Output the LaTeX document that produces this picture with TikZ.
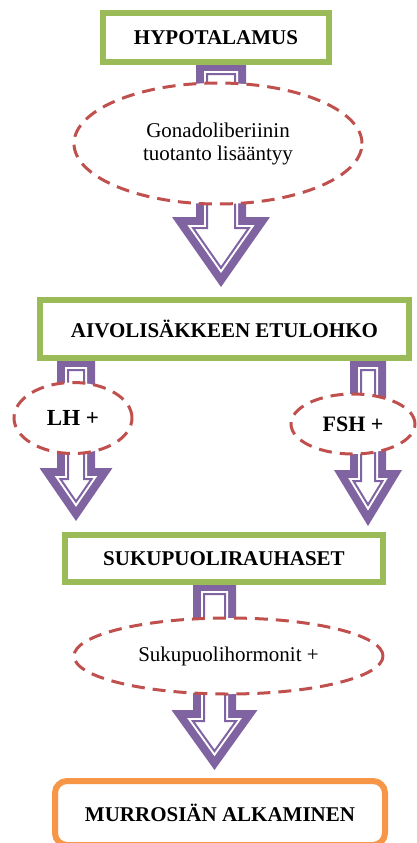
\documentclass[tikz,border=0pt]{standalone}
\usepackage{fontspec}
\setmainfont{Liberation Serif}
\usetikzlibrary{calc,shapes.geometric,backgrounds}
\definecolor{boxgreen}{HTML}{9BBB59}
\definecolor{ovalred}{HTML}{C0504D}
\definecolor{arrowviolet}{HTML}{8064A2}
\definecolor{endorange}{HTML}{F79646}

\begin{document}
\begin{tikzpicture}[x=0.5pt,y=-0.5pt,
organ/.style={draw=boxgreen,line width=3pt,fill=white,inner sep=0pt,font=\fontsize{10.5}{12}\selectfont\bfseries},
result/.style={organ,draw=endorange,rounded corners=6pt},
hormone/.style={ellipse,draw=ovalred,line width=1.5pt,dash pattern=on 6.5pt off 4pt,fill=white,inner sep=0pt,align=center,font=\fontsize{10.5}{11.5}\selectfont},
harrow/.style n args={4}{to path={let \p1=(\tikztostart),\p2=(\tikztotarget),
  \n1={#1-#4},\n2={#4*sqrt((#2)^2+(#3)^2)/(#2)},\n3={(#2)*((#3)-(#4)-\n2)/(#3)} in
  (\x1-\n1,\y1-#4) -- (\x1-\n1,\y2+#3-#4) -- (\x1-\n3,\y2+#3-#4) -- (\x1,\y2+\n2)
  -- (\x1+\n3,\y2+#3-#4) -- (\x1+\n1,\y2+#3-#4) -- (\x1+\n1,\y1-#4) -- cycle}}]
\useasboundingbox (0,0) rectangle (417,843);
\node[organ,minimum width=113pt,minimum height=24.5pt] (hyp) at (216,37.5) {HYPOTALAMUS};
\node[organ,minimum width=184.5pt,minimum height=29pt] (aivo) at (224.5,329) {AIVOLIS\"AKKEEN ETULOHKO};
\node[organ,minimum width=159pt,minimum height=23.5pt] (suku) at (224,558.5) {SUKUPUOLIRAUHASET};
\node[result,minimum width=165pt,minimum height=32pt] (murr) at (220,813) {MURROSI\"AN ALKAMINEN};
\node[hormone,minimum width=144pt,minimum height=60.5pt] (gona) at (218,143.5) {Gonadoliberiinin\\tuotanto lis\"a\"antyy};
\node[hormone,minimum width=59pt,minimum height=35.5pt,font=\fontsize{11.5}{13}\selectfont\bfseries] (lh) at (73,418) {LH +};
\node[hormone,minimum width=62pt,minimum height=30pt,font=\fontsize{11}{13}\selectfont\bfseries] (fsh) at (353,424) {FSH +};
\node[hormone,minimum width=154.5pt,minimum height=38pt] (shorm) at (228.5,656) {Sukupuolihormonit +};
\coordinate (hypout) at ([xshift=2.5pt,yshift=1pt]hyp.south);
\coordinate (aivoin) at ([yshift=5pt]aivo.north);
\coordinate (lhout) at ([xshift=19.5pt,yshift=1pt]aivo.south west);
\coordinate (lhin) at ([yshift=5.5pt]suku.north);
\coordinate (fshout) at ([xshift=-22pt,yshift=1pt]aivo.south east);
\coordinate (fshin) at ([yshift=3pt]suku.north);
\coordinate (sukuout) at ([xshift=-4.75pt,yshift=1pt]suku.south);
\coordinate (murrin) at ([yshift=4pt]murr.north);
\begin{scope}[on background layer]
\foreach \a/\b/\s/\h/\l in {hypout/aivoin/12.5/24.5/35,lhout/lhin/9.5/18.25/26.5,fshout/fshin/9/17/28,sukuout/murrin/10.75/21.5/30}{
  \fill[arrowviolet] (\a) to[harrow={\s}{\h}{\l}{0}] (\b);
  \fill[white] (\a) to[harrow={\s}{\h}{\l}{4}] (\b);
  \draw[arrowviolet,line width=1pt] (\a) to[harrow={\s}{\h}{\l}{5.5}] (\b);
}
\end{scope}
\end{tikzpicture}
\end{document}
